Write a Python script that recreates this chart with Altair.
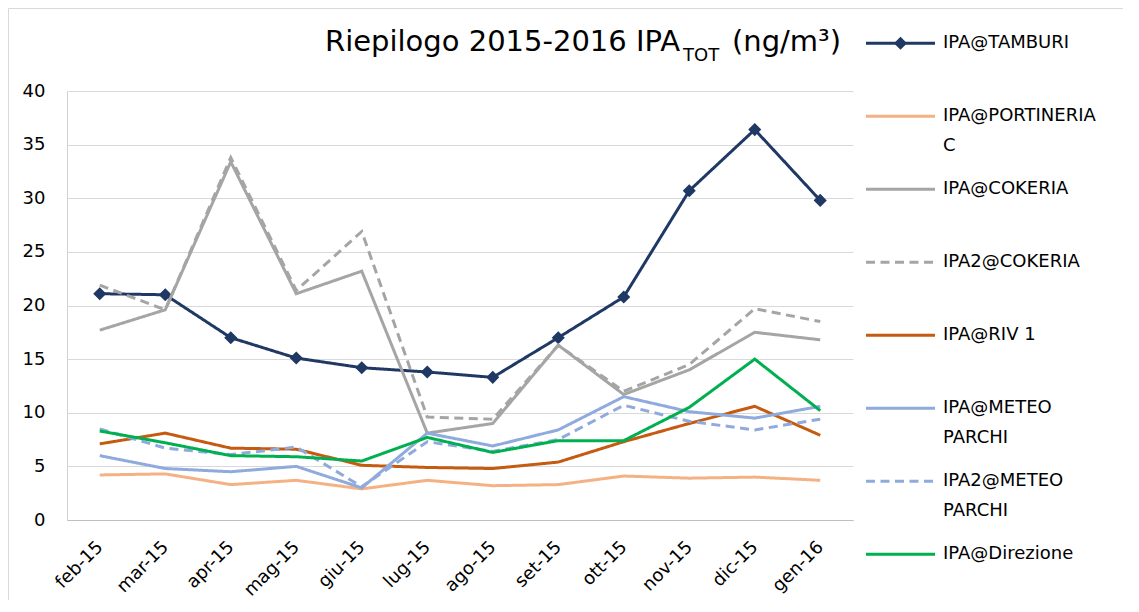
import altair as alt
import pandas as pd

# ---------------- data ----------------
months = ["feb-15", "mar-15", "apr-15", "mag-15", "giu-15", "lug-15",
          "ago-15", "set-15", "ott-15", "nov-15", "dic-15", "gen-16"]

series_names = ["IPA@TAMBURI", "IPA@PORTINERIA C", "IPA@COKERIA", "IPA2@COKERIA",
                "IPA@RIV 1", "IPA@METEO PARCHI", "IPA2@METEO PARCHI", "IPA@Direzione"]

tamburi      = [21.1, 21.0, 17.0, 15.1, 14.2, 13.8, 13.3, 17.0, 20.8, 30.7, 36.4, 29.8]
portineria   = [4.2, 4.3, 3.3, 3.7, 2.9, 3.7, 3.2, 3.3, 4.1, 3.9, 4.0, 3.7]
cokeria      = [17.7, 19.6, 33.4, 21.1, 23.2, 8.1, 9.0, 16.3, 11.7, 14.0, 17.5, 16.8]
cokeria2     = [21.9, 19.6, 33.8, 21.4, 26.9, 9.6, 9.4, 16.3, 12.0, 14.5, 19.7, 18.5]
riv1         = [7.1, 8.1, 6.7, 6.6, 5.1, 4.9, 4.8, 5.4, 7.3, 9.0, 10.6, 7.9]
meteo        = [6.0, 4.8, 4.5, 5.0, 3.0, 8.1, 6.9, 8.4, 11.5, 10.1, 9.5, 10.6]
meteo2       = [8.5, 6.7, 6.1, 6.8, 3.1, 7.3, 6.4, 7.5, 10.7, 9.2, 8.4, 9.4]
direzione    = [8.3, 7.2, 6.0, 5.9, 5.5, 7.7, 6.3, 7.4, 7.4, 10.5, 15.0, 10.2]

series_values = [tamburi, portineria, cokeria, cokeria2, riv1, meteo, meteo2, direzione]

series_colors = ["#1f3864", "#f4b183", "#a5a5a5", "#a5a5a5",
                 "#c55a11", "#8faadc", "#8faadc", "#00b050"]
series_dash = [[1, 0], [1, 0], [1, 0], [9, 5.5], [1, 0], [1, 0], [9, 5.5], [1, 0]]

legend_line1 = ["IPA@TAMBURI", "IPA@PORTINERIA", "IPA@COKERIA", "IPA2@COKERIA",
                "IPA@RIV 1", "IPA@METEO", "IPA2@METEO", "IPA@Direzione"]
legend_line2 = ["", "C", "", "", "", "PARCHI", "PARCHI", ""]

title_main = "Riepilogo 2015-2016 IPA"
title_sub = "TOT"
title_unit = "(ng/m³)"

y_ticks = [0, 5, 10, 15, 20, 25, 30, 35, 40]

FONT = "DejaVu Sans"

# ---------------- tables ----------------
rows = []
for name, vals in zip(series_names, series_values):
    for m, v in zip(months, vals):
        rows.append({"month": m, "value": v, "series": name})
df = pd.DataFrame(rows)

leg_df = pd.DataFrame({
    "idx": list(range(len(series_names))),
    "series": series_names,
    "line1": legend_line1,
    "line2": legend_line2,
})

W, H = 786, 429

color_scale = alt.Scale(domain=series_names, range=series_colors)
dash_scale = alt.Scale(domain=series_names, range=series_dash)
y_scale = alt.Scale(domain=[0, 40], nice=False, zero=True)
x_scale = alt.Scale(domain=months)

x_axis = alt.Axis(title=None, labelAngle=-45, labelAlign="right",
                  labelBaseline="middle", labelPadding=24,
                  ticks=False, grid=False, labelOverlap=False,
                  domain=True, domainColor="#bfbfbf", domainWidth=1,
                  labelFont=FONT, labelFontSize=18, labelColor="#000000")

y_axis = alt.Axis(title=None, values=y_ticks, ticks=False, grid=True,
                  gridColor="#d9d9d9", gridWidth=1, domain=True,
                  domainColor="#d0d0d0", domainWidth=1, labelPadding=22,
                  labelFont=FONT, labelFontSize=18, labelColor="#000000")

X = alt.X("month:N", sort=months, scale=x_scale, axis=x_axis)
Y = alt.Y("value:Q", scale=y_scale, axis=y_axis)
C = alt.Color("series:N", scale=color_scale, legend=None)
D = alt.StrokeDash("series:N", scale=dash_scale, legend=None)

layers = []
for i, name in enumerate(series_names):
    layers.append(
        alt.Chart(df).transform_filter(alt.datum.series == name)
        .mark_line(strokeWidth=3, strokeCap="butt")
        .encode(x=X, y=Y, color=C, strokeDash=D)
    )
    if i == 0:
        layers.append(
            alt.Chart(df).transform_filter(alt.datum.series == name)
            .mark_point(shape="diamond", filled=True, size=120, opacity=1,
                        stroke=series_colors[0], strokeWidth=1.5)
            .encode(x=X, y=Y, color=C)
        )

# ---------------- legend (layout in pixels) ----------------
LEG_Y0, LEG_STEP = -47.7, 73.0
LEG_X0, LEG_X1, LEG_TX = 799, 868, 876
for i in range(len(series_names)):
    ypos = LEG_Y0 + LEG_STEP * i
    base = alt.Chart(leg_df).transform_filter(alt.datum.idx == i)
    layers.append(
        base.mark_rule(strokeWidth=3, strokeCap="butt").encode(
            x=alt.value(LEG_X0), x2=alt.value(LEG_X1), y=alt.value(ypos),
            color=C, strokeDash=D)
    )
    if i == 0:
        layers.append(
            base.mark_point(shape="diamond", filled=True, size=120, opacity=1,
                            stroke=series_colors[0], strokeWidth=1.5).encode(
                x=alt.value((LEG_X0 + LEG_X1) / 2), y=alt.value(ypos), color=C)
        )
    layers.append(
        base.mark_text(align="left", baseline="middle", font=FONT, fontSize=18,
                       color="#000000").encode(
            x=alt.value(LEG_TX), y=alt.value(ypos), text="line1:N")
    )
    if legend_line2[i]:
        layers.append(
            base.mark_text(align="left", baseline="middle", font=FONT, fontSize=18,
                           color="#000000").encode(
                x=alt.value(LEG_TX), y=alt.value(ypos + 29.5), text="line2:N")
        )

# ---------------- title & frame ----------------
tdf = pd.DataFrame({"main": [title_main], "sub": [title_sub], "unit": [title_unit]})
tbase = alt.Chart(tdf)
layers.append(tbase.mark_rect(fillOpacity=0, stroke="#d9d9d9", strokeWidth=1).encode(
    x=alt.value(-58.5), x2=alt.value(W + 400),
    y=alt.value(-82.5), y2=alt.value(H + 300)))
layers.append(tbase.mark_text(align="right", baseline="alphabetic", font=FONT,
                              fontSize=29, color="#000000").encode(
    x=alt.value(613), y=alt.value(-40), text="main:N"))
layers.append(tbase.mark_text(align="left", baseline="alphabetic", font=FONT,
                              fontSize=18, color="#000000").encode(
    x=alt.value(616), y=alt.value(-30), text="sub:N"))
layers.append(tbase.mark_text(align="left", baseline="alphabetic", font=FONT,
                              fontSize=29, color="#000000").encode(
    x=alt.value(665), y=alt.value(-40), text="unit:N"))

chart = alt.layer(*layers).properties(
    width=W, height=H,
    padding={"left": 59, "top": 83, "right": 270, "bottom": 80},
    autosize=alt.AutoSizeParams(type="none"),
).configure_view(strokeWidth=0)

chart.save("out.html", embed_options={"renderer": "svg", "actions": False})
